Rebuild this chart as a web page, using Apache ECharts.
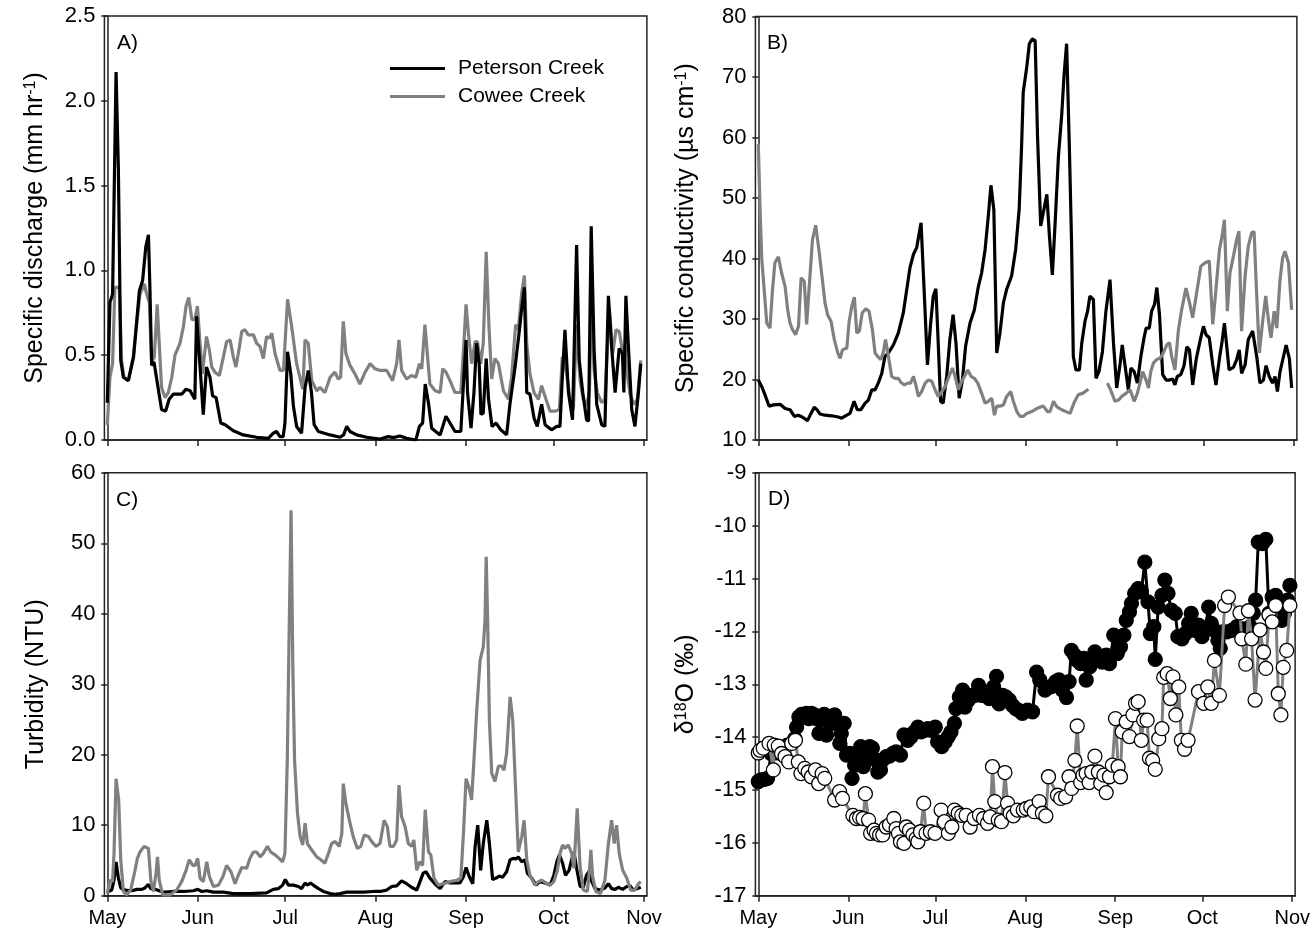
<!DOCTYPE html>
<html>
<head>
<meta charset="utf-8">
<script src="https://cdn.jsdelivr.net/npm/echarts@6/dist/echarts.min.js"></script>
<style>
  html, body { margin: 0; padding: 0; background: #fff; }
  #chart { width: 1313px; height: 943px; }
</style>
</head>
<body>
<div id="chart"></div>
<script>
// x = days since May 1
const monthDays = [0, 31, 61, 92, 123, 153, 184];
const monthNames = ['May', 'Jun', 'Jul', 'Aug', 'Sep', 'Oct', 'Nov'];
const seriesNames = ['Peterson Creek', 'Cowee Creek'];

// A) specific discharge (mm hr-1)
const dischargePeterson = [[0,0.22],[0.9,0.81],[1.8,0.86],[3,2.17],[3.8,1.59],[4.6,0.47],[5.5,0.37],[7.2,0.35],[9,0.49],[11,0.88],[12.1,0.94],[13.2,1.14],[14.1,1.21],[14.6,0.9],[15.2,0.44],[16,0.46],[18.6,0.18],[20,0.17],[21.2,0.24],[22.6,0.27],[25.5,0.27],[27,0.3],[28.4,0.29],[30,0.24],[30.6,0.73],[31.8,0.43],[32.9,0.15],[34,0.43],[35.2,0.37],[36.1,0.26],[37.3,0.25],[38.9,0.1],[40.4,0.09],[43.2,0.055],[46.6,0.03],[51.2,0.016],[55.2,0.01],[56.9,0.04],[58,0.05],[59.2,0.02],[60.3,0.02],[60.9,0.1],[61.8,0.52],[62.9,0.39],[63.8,0.2],[64.9,0.08],[66.6,0.04],[67.8,0.31],[68.9,0.41],[70,0.28],[70.9,0.09],[72.4,0.05],[76.4,0.03],[79.8,0.016],[81,0.03],[82.1,0.08],[83.2,0.05],[85.5,0.03],[88.9,0.016],[93.5,0.006],[96.3,0.02],[98,0.014],[100.3,0.024],[102.6,0.01],[105.8,0],[107,0.08],[108.1,0.1],[109,0.33],[110.1,0.22],[111.2,0.07],[114.1,0.03],[116.1,0.14],[117.5,0.1],[119.2,0.05],[121.2,0.05],[122.1,0.33],[123,0.59],[123.5,0.28],[124.7,0.07],[125.7,0.28],[126.6,0.57],[127.5,0.45],[128.1,0.15],[128.9,0.16],[129.9,0.48],[130.7,0.24],[131.9,0.08],[133.3,0.1],[134.9,0.06],[136.9,0.03],[138.1,0.22],[139.8,0.43],[141.3,0.65],[142.3,0.81],[143,0.9],[143.8,0.28],[144.9,0.27],[146.3,0.13],[147.4,0.08],[148.9,0.21],[150.1,0.09],[152.3,0.06],[154.1,0.08],[155.2,0.08],[156,0.37],[156.9,0.65],[158.1,0.28],[159.5,0.12],[160.9,1.15],[161.8,0.47],[163,0.28],[164.3,0.12],[165,0.11],[165.9,1.26],[166.9,0.53],[167.8,0.21],[169.5,0.09],[170.6,0.08],[171.8,0.85],[172.9,0.55],[174.1,0.28],[175.5,0.54],[176.6,0.51],[177.1,0.28],[177.8,0.85],[178.6,0.57],[179.8,0.18],[180.9,0.08],[182.1,0.28],[182.9,0.45]];
const dischargeCowee = [[0,0.09],[0.9,0.37],[1.8,0.45],[2.6,0.9],[4.1,0.9],[4.9,0.47],[5.7,0.37],[7.2,0.35],[8.9,0.49],[10.1,0.69],[11.2,0.86],[12.7,0.92],[13.5,0.86],[14.4,0.81],[15.2,0.46],[16.1,0.49],[17.1,0.8],[17.8,0.57],[18.6,0.31],[19.8,0.25],[20.9,0.28],[22.1,0.37],[23.2,0.5],[24.9,0.57],[26.1,0.67],[27,0.79],[27.9,0.84],[29,0.71],[30,0.71],[30.9,0.79],[31.8,0.57],[32.6,0.39],[34,0.61],[35,0.53],[35.8,0.43],[36.9,0.4],[38.4,0.38],[39.8,0.49],[40.9,0.58],[42.1,0.59],[43.2,0.49],[44.1,0.43],[45.3,0.55],[46.1,0.64],[47.2,0.65],[48.3,0.62],[50.1,0.62],[51.2,0.57],[52.4,0.55],[53.5,0.48],[54.6,0.61],[55.6,0.6],[56.4,0.63],[57.5,0.51],[59.2,0.41],[60.4,0.41],[61.8,0.83],[63.2,0.67],[64.9,0.45],[67,0.3],[67.8,0.59],[68.9,0.57],[70.1,0.35],[71.8,0.29],[72.9,0.31],[74.6,0.28],[76.4,0.37],[78,0.4],[79.2,0.36],[80,0.37],[80.9,0.7],[81.8,0.51],[83.2,0.44],[84.9,0.39],[86.6,0.33],[88.4,0.4],[90.1,0.45],[91.8,0.42],[93.5,0.41],[95.8,0.41],[97.8,0.35],[99.2,0.45],[100,0.59],[100.9,0.41],[102.6,0.36],[104.3,0.38],[105.8,0.37],[107,0.45],[107.8,0.42],[108.9,0.68],[109.7,0.51],[110.6,0.33],[112.4,0.29],[114.1,0.28],[115,0.42],[116.1,0.4],[117.5,0.35],[119.2,0.28],[121.2,0.28],[122.1,0.53],[123,0.8],[123.8,0.63],[124.9,0.45],[126.1,0.58],[126.9,0.58],[128,0.45],[128.9,0.57],[129.9,1.11],[130.9,0.65],[131.8,0.36],[132.9,0.48],[134.1,0.45],[135.8,0.29],[137.5,0.24],[138.6,0.37],[140,0.68],[140.9,0.65],[142.1,0.87],[143,0.97],[143.8,0.57],[144.9,0.39],[146.3,0.28],[147.8,0.24],[148.9,0.32],[150.4,0.24],[151.8,0.17],[153.5,0.17],[155,0.18],[156,0.49],[157.3,0.41],[158.6,0.25],[159.8,0.18],[160.9,0.68],[162.1,0.35],[163.2,0.24],[164.3,0.2],[165.3,0.29],[165.9,0.76],[166.9,0.41],[168,0.28],[169.5,0.22],[170.6,0.24],[172.1,0.78],[173.3,0.51],[174.4,0.65],[175.5,0.64],[176.6,0.53],[177.5,0.55],[178.1,0.41],[179.2,0.27],[180.6,0.21],[181.7,0.24],[182.9,0.47]];

// B) specific conductivity (us cm-1)
const condPeterson = [[0,19.9],[1.2,18.8],[2.5,17.2],[3.7,15.6],[5.2,15.8],[7.5,15.9],[9.2,15.2],[10.9,15],[12.4,13.9],[13.7,14.1],[15.1,13.8],[16.9,13.2],[18.1,14.4],[19.2,15.4],[20,15.1],[21.2,14.3],[22.9,14.1],[25.2,14],[27.5,13.8],[28.6,13.6],[30.4,14.1],[31.5,14.4],[32.9,16.4],[34,15],[35.2,15],[36.7,16.1],[37.8,16.6],[39,18.3],[40.1,18.3],[41.2,19.4],[42.4,21],[43.5,23.8],[44.7,24.4],[46.4,25.7],[48.1,27.7],[49.8,31],[51,34.9],[52.1,38.5],[53.3,40.7],[54.4,41.8],[55.9,45.9],[57,34.3],[58.1,22.4],[59.2,29.3],[60.1,33.8],[61,35],[61.8,26],[62.6,16.4],[63.5,16.1],[64.7,20.5],[65.8,26.6],[66.9,30.7],[67.9,26],[69,16.9],[70.1,19.9],[71.2,25.5],[72.7,29.3],[74.2,31.5],[75.6,35.4],[76.7,37.6],[77.9,41.5],[79,47],[79.9,52.1],[80.9,48.1],[81.9,24.4],[83,27.7],[84.2,32.7],[85.3,34.9],[87,37.1],[88.4,41.5],[89.6,48.1],[90.4,58.1],[91,67.5],[92.2,71.6],[93.1,75.5],[94.1,76.3],[95.1,76],[95.9,60.3],[97,45.4],[97.9,47.6],[99.1,50.6],[100,43.7],[101,37.3],[101.9,45.4],[103.1,57],[104.2,63.6],[105,70.2],[105.9,75.5],[106.8,59.2],[107.6,42.6],[108.2,23.8],[109.1,21.6],[110.3,21.6],[111.1,26],[112.2,29.6],[113.1,31.3],[113.9,33.8],[115.1,33.2],[116,20.2],[117,21.3],[118.2,24.6],[119.4,31.3],[120.8,36.5],[122,26],[123.1,18.6],[124.3,22.7],[125,25.7],[126,22.2],[127.1,18.3],[128,21.9],[129.1,21.3],[130.2,19.4],[131.4,23.8],[132.5,26.9],[133.2,28.5],[134.3,28.5],[135.1,31.3],[136.1,32.4],[136.9,35.2],[137.8,30.7],[138.9,20.8],[140.1,19.9],[141.2,19.9],[142.3,20.1],[143.1,19.1],[143.9,20.5],[145.1,20.8],[146.2,22.2],[147.2,25.4],[148.1,24.9],[149.2,19.1],[150.4,23.3],[151.7,26.3],[152.9,28.8],[153.8,27.4],[154.9,26.9],[156.1,22.4],[157.2,19.1],[158.4,23.5],[159.3,26.3],[160.1,29.3],[160.9,25.5],[161.7,21.6],[163.2,22],[164.3,23.3],[165.2,24.9],[166,21],[167.2,22.4],[168.3,26.6],[169.8,28],[171.2,23.8],[172.3,19.4],[173.5,19.9],[174.4,22.3],[175.5,20.5],[176.6,19.4],[177.5,20.5],[178.3,18],[179.2,21.3],[180.4,23.8],[181.3,25.7],[182.4,23.5],[183.2,18.6]];
const condCowee = [[0,58.9],[0.6,48.1],[1.2,39.8],[2.1,34.3],[2.9,29.3],[4,28.5],[4.8,34.3],[5.7,39.3],[6.9,40.3],[8,37.6],[9.2,35.4],[10.1,31.5],[10.9,29.3],[11.8,28.2],[12.8,27.4],[13.8,28.8],[14.7,36.8],[15.8,36.2],[16.6,29.1],[17.5,35.4],[18.6,43.1],[19.7,45.5],[20.8,41.5],[22,36.5],[22.9,32.7],[23.8,30.7],[25,29.6],[26.1,26.6],[27.3,24.4],[28.1,23.5],[28.9,24.9],[30.4,25.2],[31.2,29.6],[32.1,32.1],[33,33.6],[33.8,27.7],[34.7,28],[35.7,31],[36.9,31.7],[38,31.3],[39.2,28.2],[40.1,24.4],[41,23.8],[42.1,23.3],[42.9,24.4],[43.7,26.6],[44.7,23.8],[45.8,20.5],[46.9,20.2],[48.1,20.2],[49,19.5],[50.2,19.1],[51.3,19.4],[52.3,19.4],[53.3,20.5],[54.1,19.1],[55,17.2],[56.1,18],[57.3,19.4],[58.4,19.9],[59.6,19.7],[60.7,18.3],[61.8,17.2],[63,18],[64.1,18.8],[65.5,20.5],[66.7,21.9],[67.6,20.5],[68.7,18.3],[69.6,19.4],[70.8,20.5],[71.9,21.6],[73.1,20.5],[74.2,20.2],[75.4,19.4],[76.7,17.7],[77.9,16.1],[79,16.4],[80.2,16.9],[81.1,14.1],[81.9,15.6],[83,15.6],[84.2,15.8],[85.3,17.2],[86.7,18],[87.6,16.4],[88.8,14.7],[89.9,13.9],[91,13.9],[92.2,14.4],[93.9,14.7],[95.6,15.2],[97.9,15.6],[99.3,14.7],[100.2,14.7],[101.4,16.4],[102.5,15.5],[104.2,15],[107.1,14.4],[108.4,16.1],[109.9,17.5],[111.4,17.7],[113.4,18.4],[116,'-'],[119.9,19.4],[121,18.3],[122.5,16.4],[123.7,16.6],[124.8,17.2],[126.3,17.7],[127.7,18.3],[129.1,16.4],[130.2,17.7],[131.1,19.4],[132,21.3],[133.2,19.9],[134,18.6],[134.8,21.3],[135.7,22.7],[136.8,23.3],[138,23.5],[139.1,24.4],[140.3,25.7],[141.2,26.1],[142,23.8],[143.1,21.6],[144.3,28.2],[145.4,31.5],[146.9,35.1],[148.1,32.7],[149.2,30.2],[150.4,33.8],[152,38.7],[153.5,39.3],[154.9,39.6],[156.1,29.1],[157.2,34.9],[158.4,41.5],[159.3,43.7],[160.1,46.4],[161.1,31.3],[162,37.6],[163.2,40.4],[164.3,43.1],[165.1,44.5],[166,28],[167.2,37.1],[168.3,42],[169.5,44.3],[170.3,44.4],[171.2,33.8],[172.1,24.4],[173.3,29.9],[174.3,33.8],[175.2,29.9],[176.1,26.9],[177.2,31.3],[178.1,28.5],[179.2,36.5],[180.1,40.1],[180.9,41.2],[182.1,39.3],[183.2,31.5]];

// C) turbidity (NTU)
const turbPeterson = [[0,0.5],[1.5,0.8],[2.3,2.2],[3,4.8],[3.8,2.5],[4.6,1.1],[6.1,0.8],[8.4,0.7],[10.1,0.9],[11.8,0.9],[12.9,1.1],[14.1,1.6],[14.9,1],[16.4,0.9],[17.8,0.7],[19.2,0.5],[22.6,0.6],[26.1,0.6],[29.5,0.7],[31,0.9],[32.4,0.6],[34.1,0.7],[36.4,0.5],[39.8,0.5],[43.2,0.3],[48.9,0.3],[54.6,0.4],[56.9,0.9],[58.6,1],[60.1,1.5],[61,2.3],[62.1,1.5],[63.8,1.5],[65.5,1.3],[66.6,1],[67.8,1.8],[68.6,1.5],[69.7,1.8],[70.6,1.5],[72.4,1],[74.1,0.6],[76.4,0.3],[78.1,0.2],[79.8,0.3],[82.1,0.5],[84.4,0.5],[87.8,0.5],[91.2,0.6],[93.5,0.6],[95.8,0.8],[97.5,1.3],[99.2,1.4],[100.9,2.1],[102.6,1.7],[104.3,1.2],[106.1,0.8],[107.2,2],[108.3,3.2],[109.3,3.4],[110.6,2.5],[112.3,1.7],[114.1,1],[115.8,2],[117.5,1.8],[119.2,1.8],[120.9,1.8],[122.1,2.7],[123,4],[124.1,2.7],[125.3,1.7],[126.1,7],[127,10],[128,3.6],[128.9,7.4],[130.1,10.7],[131,7.4],[132.1,2.3],[133.3,2.5],[134.4,2.8],[135.5,2.6],[136.9,3.4],[138.1,5.1],[139.2,5.3],[140.1,5.2],[140.9,5.5],[142.1,4.8],[143.2,5.1],[144,3.2],[145.5,2.5],[147,1.5],[148.3,2],[150.1,1.8],[151.8,1.5],[153.1,2.9],[154.1,4.8],[155,5.8],[156.1,4.6],[157.1,2.9],[158.3,3.6],[159.2,5.1],[160,6.2],[160.9,3.9],[162.1,1.3],[163.2,1.2],[164.3,2.9],[165.3,3.5],[166.1,2],[167.2,1],[168.9,0.8],[170.6,1.1],[171.8,1.7],[172.9,1],[174.1,0.9],[175.2,1.2],[176.7,0.9],[178.1,1.3],[179.2,1.4],[180.3,0.8],[181.5,1],[182.9,1.2]];
const turbCowee = [[0,0.3],[0.9,2.2],[1.8,2],[2.3,6],[3,16.6],[3.9,13.6],[4.6,5.1],[5.5,0.6],[6.6,0.1],[8,0.8],[9.5,3.6],[10.3,5.3],[11.2,6.2],[12.6,7],[14.1,6.7],[14.9,2.2],[15.8,0.6],[16.7,3.2],[17.2,5.5],[17.8,2.2],[19,0.1],[21.5,0.1],[23.8,0.8],[25.5,2],[27,3.6],[28.1,5.1],[29.3,4.3],[30.1,4.3],[31,5.3],[31.8,2.5],[32.9,2],[34.1,4.8],[35,2.7],[36.4,1.3],[38.1,1.5],[39.6,2.7],[40.9,4.3],[42.4,3.4],[43.8,1.7],[44.9,2.9],[46.1,4],[47.8,3.9],[48.9,5.3],[50.1,6.2],[51.2,6.2],[52.4,5.5],[53.5,6],[54.9,7],[56,6.2],[57.5,5.8],[58.9,5.3],[60.1,4.8],[60.9,6],[61.7,19.2],[62.4,39.1],[63,54.7],[63.6,32.5],[64.2,19.2],[65.2,11.7],[66.1,8.4],[67,7.2],[67.8,10.3],[68.6,7.4],[69.7,6.7],[70.6,6.2],[71.8,5.5],[73.2,5.1],[74.6,4.6],[75.8,6],[76.9,7.4],[78.1,7.7],[79.5,7],[80.4,8.8],[80.9,15.9],[81.8,13.1],[83,10.7],[84.3,8.4],[85.7,6.7],[86.9,7],[88.1,8.6],[89.5,8.4],[90.6,7.7],[92.1,7],[93.5,7.4],[94.9,10.7],[96,9.8],[96.9,7],[98.1,7],[99.2,7.9],[100,15.7],[100.9,11.2],[102.1,9.8],[103.2,7.4],[104.3,7],[105.1,7.9],[106.1,3.6],[107,4.8],[108.1,4.3],[109,12.2],[110.1,6.2],[110.9,5.8],[112,2.5],[113.5,1.5],[115.2,1.7],[117.5,2],[119.8,2.2],[121.2,2.5],[122.1,8.8],[123,16.6],[124.1,15.2],[124.9,13.6],[125.7,19.2],[126.6,25.9],[127.8,33.4],[128.9,35.3],[129.5,39.1],[129.9,48.1],[130.4,39.1],[131,24.9],[131.8,17.4],[132.9,16.2],[134.1,18.4],[135.2,18.4],[136,17.8],[136.9,20.2],[138.1,28.2],[139,24.9],[139.8,16.9],[140.9,6.2],[142.1,8.4],[142.9,10.7],[143.8,5.1],[144.9,2.9],[146.6,1.5],[147.8,2],[148.9,2.2],[150.4,1.8],[151.8,1.5],[153.1,2],[154.3,3.6],[155.2,6],[156.1,7.2],[156.9,6.7],[158.1,7.2],[159.2,6],[160,3.9],[161.1,12.4],[162.1,4.1],[163.2,0.8],[164.6,0.6],[165.3,3.6],[165.8,6.5],[166.4,2.7],[167.5,0.6],[169.1,0.3],[170.6,2.2],[171.8,7.4],[172.9,10.7],[173.8,7.4],[174.6,10],[175.5,6],[176.7,3.6],[178.1,2.5],[179.4,0.8],[180.9,0.8],[182.1,1.7],[182.9,2]];

// D) d18O (permil)
const isoPeterson = [[0,-14.84],[0.9,-14.81],[2.1,-14.8],[3.2,-14.78],[4.4,-14.31],[6,-14.3],[8,-14.2],[10,-14.15],[12.6,-14.03],[13.2,-13.81],[14,-13.62],[14.9,-13.57],[15.8,-13.62],[16.6,-13.55],[17.4,-13.65],[18.3,-13.55],[19.3,-13.58],[20,-13.65],[20.9,-13.93],[21.8,-13.68],[22.7,-13.57],[23.5,-13.96],[24.3,-13.62],[25.2,-13.74],[26.3,-13.58],[27.3,-13.74],[28.1,-14.12],[28.6,-13.93],[29.6,-13.74],[30.4,-14.34],[31.5,-14.31],[32.3,-14.78],[33.2,-14.53],[34.4,-14.37],[35.3,-14.18],[36.2,-14.56],[37.2,-14.34],[38.4,-14.18],[39.3,-14.21],[40.4,-14.43],[41.2,-14.66],[42.1,-14.62],[42.9,-14.43],[44.1,-14.37],[45.2,-14.36],[46.4,-14.31],[47.5,-14.28],[49,-14.34],[50.2,-13.96],[51.5,-14.06],[52.7,-13.99],[53.8,-13.9],[55,-13.81],[56.1,-13.9],[57.3,-13.87],[58.4,-13.84],[59.6,-13.87],[61,-13.81],[61.8,-14.09],[63.2,-14.18],[64.4,-14.09],[65.5,-13.99],[66.4,-13.9],[67.6,-13.74],[68.1,-13.46],[69.3,-13.24],[70.4,-13.11],[71.2,-13.43],[72.4,-13.3],[73.5,-13.21],[74.7,-13.21],[75.9,-13.02],[77,-13.21],[78.1,-13.21],[79.6,-13.27],[80.4,-13.11],[81.1,-13.05],[82.1,-12.85],[83,-13.37],[84.2,-13.21],[85.3,-13.24],[86.5,-13.3],[87.6,-13.4],[88.7,-13.46],[89.9,-13.5],[91,-13.55],[92.8,-13.49],[94.5,-13.52],[95.9,-12.77],[97,-12.92],[98.8,-13.11],[100.8,-13.05],[102.5,-12.95],[103.6,-12.92],[104.8,-13.11],[106.2,-13.25],[107.1,-12.95],[107.9,-12.36],[109,-12.45],[109.9,-12.55],[111.1,-12.61],[112.2,-12.51],[113,-12.92],[114.2,-12.67],[115.1,-12.58],[116,-12.39],[117.4,-12.48],[118.5,-12.58],[119.9,-12.45],[121,-12.61],[122.5,-12.07],[123.7,-12.42],[124.8,-12.29],[126,-12.07],[126.8,-11.79],[127.9,-11.63],[128.6,-11.47],[129.7,-11.28],[130.9,-11.19],[132,-11.25],[133.2,-10.69],[134.3,-11.44],[135.1,-12.04],[136.3,-11.91],[136.8,-12.53],[137.8,-11.54],[139.1,-11.32],[140.1,-11.03],[141.2,-11.28],[142.3,-11.6],[143.7,-11.66],[144.6,-12.1],[146,-12.14],[147.2,-12.04],[148.3,-11.85],[149.2,-11.66],[150.4,-11.98],[151.7,-11.88],[152.9,-12.1],[154,-11.95],[155.2,-11.54],[156.1,-11.85],[157.2,-11.98],[158.4,-12.17],[159.2,-12.32],[160,-12.01],[161.5,-12.01],[163.2,-11.98],[164.9,-11.91],[166.4,-11.95],[167.8,-11.98],[169.5,-11.91],[170.6,-11.66],[171.4,-11.41],[172.3,-10.31],[173.7,-10.34],[174.9,-10.26],[176,-11.66],[177.1,-11.35],[178.3,-11.32],[179.4,-11.41],[180.4,-11.79],[181.3,-11.66],[182.4,-11.41],[183.2,-11.13]];
const isoCowee = [[0,-14.3],[0.6,-14.25],[1.7,-14.21],[3.7,-14.12],[5.2,-14.62],[5.5,-14.15],[6.9,-14.17],[8,-14.31],[9.2,-14.37],[10.5,-14.47],[11.5,-14.12],[12.8,-14.06],[13.8,-14.47],[14.7,-14.69],[16,-14.59],[17.2,-14.66],[18.3,-14.75],[19.7,-14.62],[20.8,-14.88],[22,-14.69],[22.9,-14.78],[26.3,-15.19],[28,-15.03],[29,-15.16],[32.6,-15.48],[33.8,-15.54],[34.9,-15.52],[36.1,-15.54],[36.9,-15.07],[38,-15.57],[38.7,-15.82],[39.9,-15.76],[40.7,-15.82],[41.8,-15.85],[42.9,-15.85],[44.1,-15.7],[45.2,-15.66],[46.7,-15.54],[47.5,-15.73],[48.3,-15.82],[49,-15.98],[50.2,-16.01],[51,-15.7],[52.1,-15.76],[53.3,-15.85],[54.4,-15.92],[55,-15.98],[55.9,-15.79],[57,-15.25],[57.8,-15.82],[59.3,-15.79],[60.9,-15.82],[63,-15.38],[64.1,-15.6],[65.5,-15.82],[66.7,-15.7],[67.6,-15.38],[68.9,-15.44],[70.1,-15.48],[71.6,-15.48],[73,-15.7],[74.4,-15.54],[76.2,-15.48],[77.6,-15.54],[79,-15.63],[79.9,-15.51],[80.7,-14.56],[81.5,-15.22],[82.7,-15.57],[83.8,-15.6],[85,-14.67],[85.9,-15.25],[86.8,-15.44],[87.9,-15.49],[89.3,-15.38],[91.3,-15.38],[92.4,-15.35],[93.9,-15.32],[95.1,-15.41],[96.8,-15.22],[97.9,-15.44],[99.1,-15.49],[100,-14.75],[103.1,-15.1],[104.2,-15.16],[105.9,-15.13],[107.1,-14.75],[108,-14.97],[109.1,-14.44],[109.9,-13.79],[111.1,-14.86],[111.9,-14.72],[113,-14.69],[114,-14.86],[114.9,-14.66],[116,-14.36],[117.2,-14.66],[118,-14.88],[119.1,-14.72],[119.9,-15.05],[121,-14.75],[122,-14.53],[123.1,-13.65],[124,-14.56],[124.8,-14.75],[125.4,-13.9],[126.8,-13.71],[127.9,-13.99],[129.1,-13.58],[130,-13.36],[130.9,-13.33],[132,-14.06],[132.8,-13.68],[134,-13.68],[134.8,-14.4],[135.9,-14.44],[136.8,-14.61],[138,-14.03],[139.1,-13.84],[139.7,-12.87],[140.9,-12.8],[142,-13.27],[142.9,-12.86],[143.9,-13.58],[144.9,-13.05],[145.8,-14.06],[146.9,-14.23],[148.1,-14.06],[151.7,-13.14],[153.5,-13.36],[154.9,-13.05],[156.1,-13.36],[157.2,-12.55],[158.9,-13.21],[160.7,-11.51],[162,-11.35],[166,-11.65],[166.6,-12.14],[168,-12.62],[168.9,-11.61],[170,-12.14],[171.2,-13.3],[172.9,-11.97],[174.1,-12.39],[174.9,-12.7],[176,-11.69],[177.1,-11.82],[178.3,-11.51],[179.2,-13.18],[180.1,-13.58],[180.9,-12.68],[182.1,-12.36],[183.2,-11.51]];

const FONT = 'Liberation Sans, Arial, sans-serif';
const BLACK = '#000000';
const GREY = '#808080';

const grids = [
  { left: 104.4, top: 16, width: 542.5, height: 424 },
  { left: 755.4, top: 16.5, width: 541.5, height: 423.5 },
  { left: 104.4, top: 472.8, width: 542.5, height: 422.9 },
  { left: 755.4, top: 472.8, width: 541.5, height: 422.9 }
];

const xAxes = grids.map(function (g, i) {
  return {
    type: 'value', gridIndex: i, min: -1, max: 185,
    axisLine: { show: true, lineStyle: { color: '#222', width: 1.5 } },
    axisTick: { show: true, inside: false, length: 6, customValues: monthDays, lineStyle: { color: '#222', width: 1.5 } },
    axisLabel: {
      show: i >= 2, customValues: monthDays, margin: 13,
      color: '#000', fontFamily: FONT, fontSize: 20,
      formatter: function (v) { return monthNames[monthDays.indexOf(v)] || ''; }
    },
    splitLine: { show: false }
  };
});

function yAxis(i, min, max, interval, name, fmt) {
  return {
    type: 'value', gridIndex: i, min: min, max: max, interval: interval,
    name: name, nameLocation: 'middle', nameGap: 56, nameRotate: 90,
    nameTextStyle: {
      color: '#000', fontFamily: FONT, fontSize: 25,
      rich: {
        sup: { fontSize: 16, verticalAlign: 'top', fontFamily: FONT, color: '#000', padding: [0, 0, 10, 0] },
        n: { fontSize: 25, fontFamily: FONT, color: '#000' }
      }
    },
    axisLine: { show: true, lineStyle: { color: '#222', width: 1.5 } },
    axisTick: { show: true, inside: false, length: 6, lineStyle: { color: '#222', width: 1.5 } },
    axisLabel: { color: '#000', fontFamily: FONT, fontSize: 22, margin: 9, formatter: fmt },
    splitLine: { show: false }
  };
}

const yAxes = [
  yAxis(0, 0, 2.5, 0.5, '{n|Specific discharge (mm hr}{sup|-1}{n|)}', function (v) { return v.toFixed(1); }),
  yAxis(1, 10, 80, 10, '{n|Specific conductivity (\u00b5s cm}{sup|-1}{n|)}'),
  yAxis(2, 0, 60, 10, 'Turbidity (NTU)'),
  yAxis(3, -17, -9, 1, '{n|\u03b4}{sup|18}{n|O (\u2030)}')
];

function lineSeries(name, data, idx, color, z) {
  return {
    name: name, type: 'line', xAxisIndex: idx, yAxisIndex: idx, data: data,
    symbol: 'none', lineStyle: { color: color, width: 3.2 }, itemStyle: { color: color },
    z: z, animation: false
  };
}

function dotSeries(name, data, fill, lineColor, z) {
  return {
    name: name, type: 'line', xAxisIndex: 3, yAxisIndex: 3, data: data,
    symbol: 'circle', symbolSize: 14, showSymbol: true,
    lineStyle: { color: lineColor, width: 3 },
    itemStyle: { color: fill, borderColor: '#000', borderWidth: 1.3 },
    z: z, animation: false
  };
}

function panelLabel(text, x, y) {
  return {
    type: 'text', left: x, top: y,
    style: { text: text, font: '21px ' + FONT, fill: '#000' }
  };
}

const option = {
  backgroundColor: '#fff',
  animation: false,
  grid: grids.map(function (g) {
    return Object.assign({ show: true, borderColor: '#222', borderWidth: 1.5, backgroundColor: 'transparent' }, g);
  }),
  xAxis: xAxes,
  yAxis: yAxes,
  legend: {
    left: 385, top: 53, orient: 'vertical',
    data: seriesNames, icon: 'rect', itemWidth: 55, itemHeight: 3, itemGap: 7,
    textStyle: { fontFamily: FONT, fontSize: 21, color: '#000', rich: { t: { fontFamily: FONT, fontSize: 21, color: '#000', padding: [0, 0, 0, 8] } } },
    formatter: function (n) { return '{t|' + n + '}'; }
  },
  graphic: [
    panelLabel('A)', 117, 33),
    panelLabel('B)', 767, 33),
    panelLabel('C)', 116, 490),
    panelLabel('D)', 768, 489)
  ],
  series: [
    lineSeries(seriesNames[1], dischargeCowee, 0, GREY, 2),
    lineSeries(seriesNames[0], dischargePeterson, 0, BLACK, 3),
    lineSeries(seriesNames[0], condPeterson, 1, BLACK, 2),
    lineSeries(seriesNames[1], condCowee, 1, GREY, 3),
    lineSeries(seriesNames[0], turbPeterson, 2, BLACK, 2),
    lineSeries(seriesNames[1], turbCowee, 2, GREY, 3),
    dotSeries(seriesNames[0], isoPeterson, BLACK, BLACK, 2),
    dotSeries(seriesNames[1], isoCowee, '#ffffff', GREY, 3)
  ]
};

const chart = echarts.init(document.getElementById('chart'), null, { renderer: 'canvas' });
chart.setOption(option);
</script>
</body>
</html>
